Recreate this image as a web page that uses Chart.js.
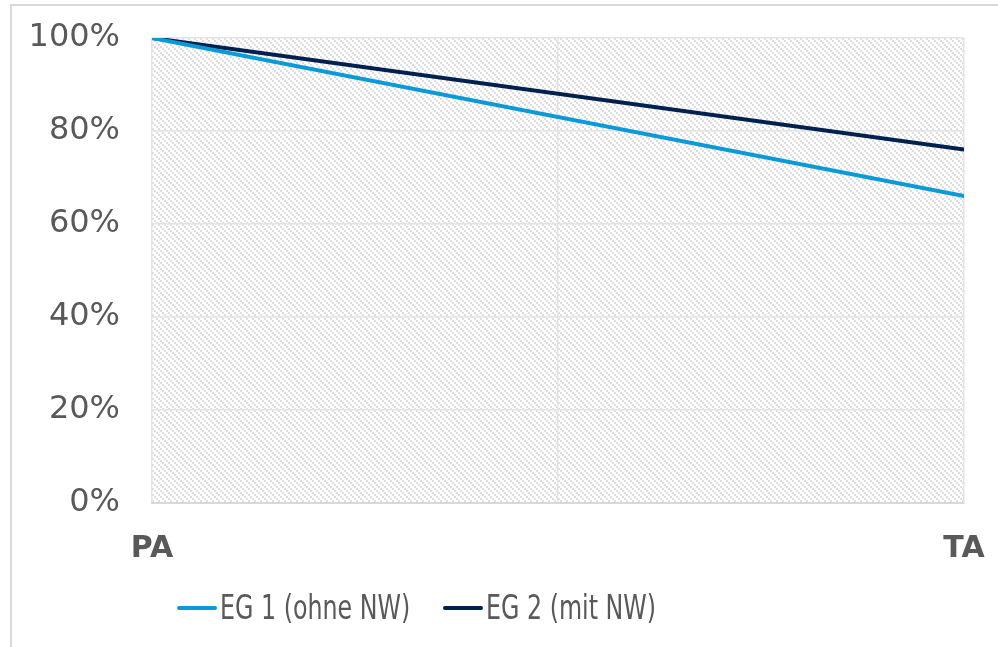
<!DOCTYPE html>
<html>
<head>
<meta charset="utf-8">
<script src="https://cdn.jsdelivr.net/npm/chart.js@4/dist/chart.umd.min.js"></script>
<style>
  html, body { margin: 0; padding: 0; background: #fff; overflow: hidden; }
  #frame { position: absolute; left: 10px; top: 4px; width: 1000px; height: 660px; border: 2px solid #d9d9d9; }
  #chart { position: absolute; left: 0; top: 0; }
  .item { position: absolute; top: 588px; height: 40px; }
  .swatch { position: absolute; left: 0; top: 18px; width: 40px; height: 4px; border-radius: 2px; }
  .label { position: absolute; left: 43px; top: 0; line-height: 40px; white-space: nowrap;
           font: 33px "DejaVu Sans", Verdana, sans-serif; color: #595959;
           transform: scaleX(0.72); transform-origin: left center; }
</style>
</head>
<body>
<div id="frame"></div>
<canvas id="chart" width="998" height="647"></canvas>
<div id="legend"></div>
<script>
const categories = ["PA", "TA"];
const seriesNames = ["EG 1 (ohne NW)", "EG 2 (mit NW)"];
const eg1Values = [100, 66];
const eg2Values = [100, 76];
const yTicks = [0, 20, 40, 60, 80, 100];
const colors = ["#0a9ad8", "#00214f"];

const textColor = "#595959";

// diagonal hatch for the plot area, like the Excel pattern fill
function makeHatch(ctx) {
  const tile = document.createElement("canvas");
  tile.width = 6; tile.height = 6;
  const t = tile.getContext("2d");
  t.fillStyle = "#fff";
  t.fillRect(0, 0, 6, 6);
  t.fillStyle = "#dedede";
  for (let k = 0; k < 3; k++) t.fillRect(k * 2, k * 2, 2, 2);
  return ctx.createPattern(tile, "repeat");
}

const hatchPlugin = {
  id: "hatch",
  beforeDraw(chart) {
    const { ctx, chartArea: a } = chart;
    ctx.save();
    ctx.fillStyle = makeHatch(ctx);
    ctx.fillRect(a.left, a.top, a.right - a.left, a.bottom - a.top);
    ctx.restore();
  }
};

const toPoints = values => values.map((v, i) => ({ x: i, y: v }));

const chart = new Chart(document.getElementById("chart").getContext("2d"), {
  type: "line",
  data: {
    datasets: [
      { label: seriesNames[0], data: toPoints(eg1Values), borderColor: colors[0], backgroundColor: colors[0] },
      { label: seriesNames[1], data: toPoints(eg2Values), borderColor: colors[1], backgroundColor: colors[1] }
    ]
  },
  options: {
    responsive: false,
    animation: false,
    layout: { padding: { top: 38, right: 34, left: 0, bottom: 0 } },
    elements: {
      line: { borderWidth: 4, tension: 0, borderCapStyle: "round" },
      point: { radius: 0 }
    },
    plugins: { legend: { display: false }, tooltip: { enabled: false } },
    scales: {
      x: {
        type: "linear",
        min: 0,
        max: categories.length - 1,
        afterBuildTicks: s => { s.ticks = [0, 0.5, 1].map(v => ({ value: v })); },
        afterFit: s => { s.height = 144; s.paddingLeft = 0; s.paddingRight = 0; },
        grid: { color: "#e4e4e4", lineWidth: 1.5, drawTicks: false },
        border: { color: "#d9d9d9", width: 2 },
        ticks: {
          autoSkip: false,
          maxRotation: 0,
          padding: 28,
          color: textColor,
          font: { family: "'DejaVu Sans', Verdana, sans-serif", size: 30, weight: "bold" },
          callback: v => (Number.isInteger(v) ? categories[v] : "")
        }
      },
      y: {
        min: 0,
        max: 100,
        afterBuildTicks: s => { s.ticks = yTicks.map(v => ({ value: v })); },
        afterFit: s => { s.width = 152; s.paddingTop = 0; s.paddingBottom = 0; },
        grid: { color: "#e4e4e4", lineWidth: 1.5, drawTicks: false },
        border: { display: false },
        ticks: {
          padding: 32,
          color: textColor,
          font: { family: "'DejaVu Sans', Verdana, sans-serif", size: 32 },
          callback: v => v + "%"
        }
      }
    }
  },
  plugins: [hatchPlugin]
});

// legend built from the series names and colours
const legend = document.getElementById("legend");
const legendLeft = [177, 443];
seriesNames.forEach((name, i) => {
  const item = document.createElement("div");
  item.className = "item";
  item.style.left = legendLeft[i] + "px";
  item.innerHTML = `<div class="swatch" style="background:${colors[i]}"></div><div class="label">${name}</div>`;
  legend.appendChild(item);
});
</script>
</body>
</html>
